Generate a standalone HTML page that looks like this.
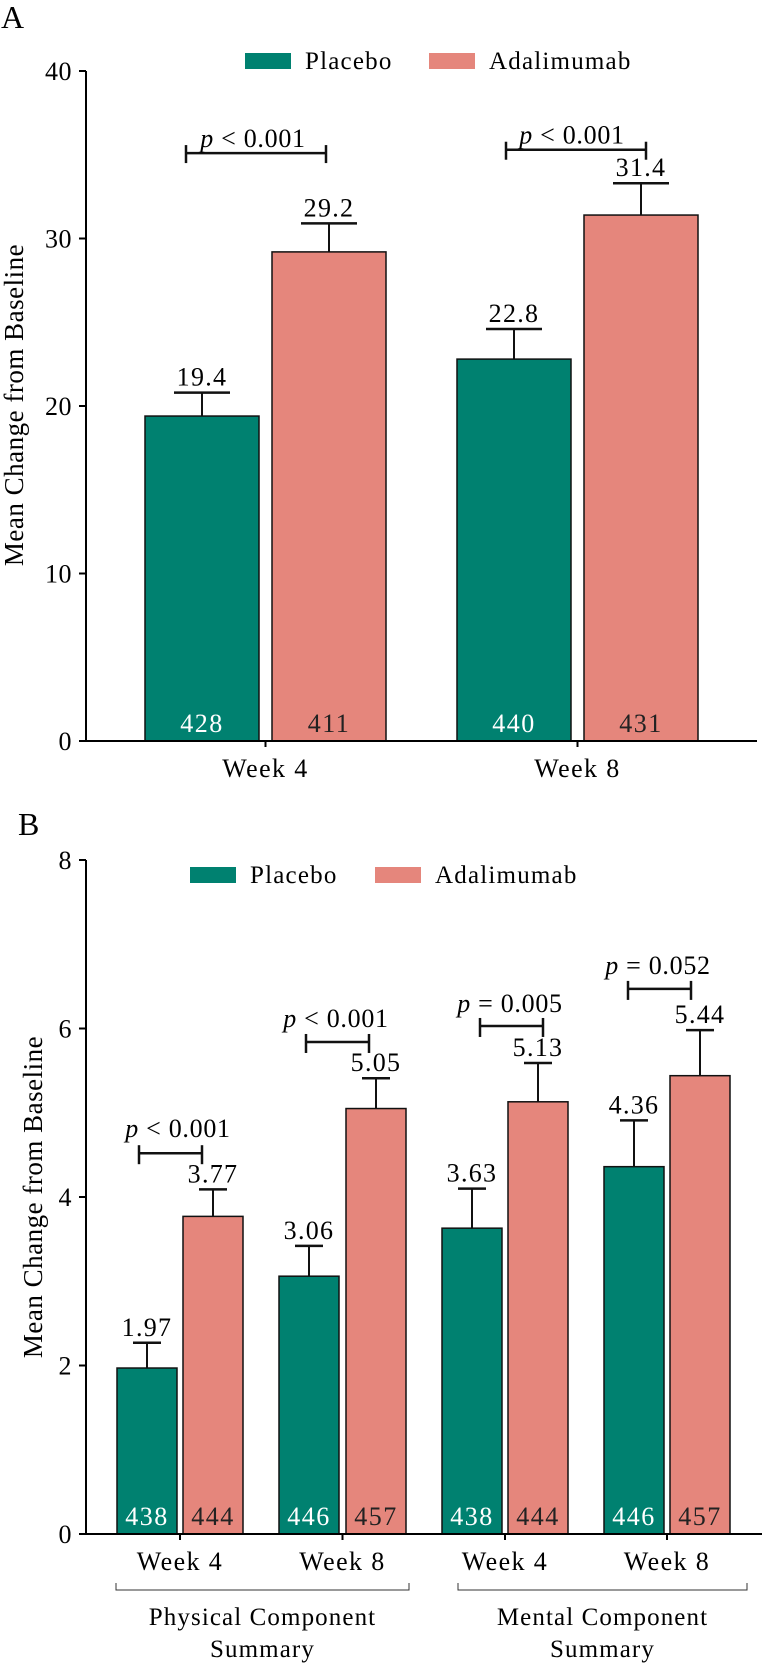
<!DOCTYPE html>
<html><head><meta charset="utf-8"><style>
html,body{margin:0;padding:0;background:#fff}
svg{display:block;font-family:"Liberation Serif",serif}
</style></head><body>
<svg id="chart" width="762" height="1664" viewBox="0 0 762 1664" xmlns="http://www.w3.org/2000/svg"></svg>
<script>
// Panel A data
const catsA = ["Week 4","Week 8"];
const placeboA = [19.4, 22.8];
const adaA = [29.2, 31.4];
const placeboAErr = [1.4, 1.8];
const adaAErr = [1.7, 1.9];
const nPlaceboA = ["428","440"];
const nAdaA = ["411","431"];
const pA = ["< 0.001","< 0.001"];
const ticksA = [0,10,20,30,40];
// Panel B data
const catsB = ["Week 4","Week 8","Week 4","Week 8"];
const placeboB = [1.97, 3.06, 3.63, 4.36];
const adaB = [3.77, 5.05, 5.13, 5.44];
const placeboBErr = [0.30, 0.36, 0.47, 0.55];
const adaBErr = [0.32, 0.36, 0.46, 0.54];
const nPlaceboB = ["438","446","438","446"];
const nAdaB = ["444","457","444","457"];
const pB = ["< 0.001","< 0.001","= 0.005","= 0.052"];
const ticksB = [0,2,4,6,8];
const groupsB = ["Physical Component|Summary","Mental Component|Summary"];

const NS="http://www.w3.org/2000/svg";
const svg=document.getElementById('chart');
function mk(tag,attrs,parent,text){const e=document.createElementNS(NS,tag);for(const k in attrs)e.setAttribute(k,attrs[k]);if(text!==undefined)e.textContent=text;(parent||svg).appendChild(e);return e;}
const TEAL="#008170", SALMON="#e5867c";

function panel(o){
  const g=mk('g',{});
  
  
  const y=v=>o.y0-(v/o.ymax)*(o.y0-o.yTop);
  const L=mk('text',{x:o.letterX,y:o.letterY,'font-size':32},g,o.letter);
  
  const ax=mk('line',{x1:o.axX,y1:y(o.ymax),x2:o.axX,y2:o.y0,stroke:'#000','stroke-width':2},g);
  
  o.ticks.forEach(t=>{
    mk('line',{x1:o.axX-7,y1:y(t),x2:o.axX,y2:y(t),stroke:'#000','stroke-width':2},g);
    const tl=mk('text',{x:o.axX-14,y:y(t)+9,'font-size':26,'text-anchor':'end','letter-spacing':'0.5'},g,String(t));
    
  });
  const yt=mk('text',{x:0,y:0,'font-size':27,'text-anchor':'middle','letter-spacing':'0.5',transform:`translate(${o.ylabX},${o.ylabY}) rotate(-90)`},g,'Mean Change from Baseline');
  
  [[o.leg[0],TEAL,'Placebo'],[o.leg[1],SALMON,'Adalimumab']].forEach(([lx,c,t])=>{
    const r=mk('rect',{x:lx,y:o.legY,width:46,height:16,fill:c},g);
    
    const tx=mk('text',{x:lx+60,y:o.legY+16,'font-size':25,'letter-spacing':'1.2'},g,t);
    
  });
  o.cats.forEach((c,i)=>{
    const series=[[o.pl[i],o.plErr[i],o.nPl[i],TEAL,'#fff',o.bx[i][0],'placebo'],[o.ad[i],o.adErr[i],o.nAd[i],SALMON,'#222',o.bx[i][1],'adalimumab']];
    series.forEach(([v,e,n,col,tc,bx,s])=>{
      const cx=bx+o.bw/2;
      const b=mk('rect',{x:bx,y:y(v),width:o.bw,height:o.y0-y(v),fill:col,stroke:'#111','stroke-width':1.5},g);
      
      mk('line',{x1:cx,y1:y(v),x2:cx,y2:y(v+e),stroke:'#111','stroke-width':2},g);
      mk('line',{x1:cx-o.cap,y1:y(v+e),x2:cx+o.cap,y2:y(v+e),stroke:'#111','stroke-width':2.5},g);
      const vl=mk('text',{x:cx,y:y(v+e)-7,'font-size':26,'text-anchor':'middle','letter-spacing':'1.3'},g,String(v));
      
      const nl=mk('text',{x:cx,y:o.nY,'font-size':26,'text-anchor':'middle','letter-spacing':'1.5',fill:tc},g,n);
      
    });
    const br=o.br[i];
    const by=y(br.v);
    mk('line',{x1:br.x1,y1:by,x2:br.x2,y2:by,stroke:'#111','stroke-width':2.5},g);
    mk('line',{x1:br.x1,y1:by-o.bu,x2:br.x1,y2:by+o.bd,stroke:'#111','stroke-width':2.5},g);
    mk('line',{x1:br.x2,y1:by-o.bu,x2:br.x2,y2:by+o.bd,stroke:'#111','stroke-width':2.5},g);
    const pt=mk('text',{x:br.tx,y:by-br.dy,'font-size':26,'text-anchor':'middle','letter-spacing':'0.7'},g);
    
    mk('tspan',{'font-style':'italic'},pt,'p');
    mk('tspan',{},pt,' '+o.p[i]);
    const xc=(o.bx[i][0]+o.bx[i][1]+o.bw)/2;
    mk('line',{x1:xc,y1:o.y0,x2:xc,y2:o.y0+6,stroke:'#000','stroke-width':2},g);
    const xl=mk('text',{x:xc,y:o.xlY,'font-size':26,'text-anchor':'middle','letter-spacing':'1.4'},g,c);
    
  });
  const xa=mk('line',{x1:o.axX,y1:o.y0,x2:o.axEnd,y2:o.y0,stroke:'#000','stroke-width':2},g);
  
  return {g,y};
}

panel({name:'panel-a',letter:'A',letterX:1,letterY:28,axX:86,axEnd:757,y0:741,yTop:71,ymax:40,ticks:ticksA,
  ylabX:23,ylabY:405,leg:[245,429],legY:53,cats:catsA,pl:placeboA,ad:adaA,plErr:placeboAErr,adErr:adaAErr,nPl:nPlaceboA,nAd:nAdaA,p:pA,
  bx:[[145,272],[457,584]],bw:114,cap:28,bu:8,bd:10,nY:732,xlY:777,
  br:[{x1:186,x2:326,v:35.1,tx:253,dy:6},{x1:506,x2:646,v:35.3,tx:572,dy:6}]});

panel({name:'panel-b',letter:'B',letterX:18,letterY:835,axX:86,axEnd:762,y0:1534,yTop:860,ymax:8,ticks:ticksB,
  ylabX:42,ylabY:1197,leg:[190,375],legY:867,cats:catsB,pl:placeboB,ad:adaB,plErr:placeboBErr,adErr:adaBErr,nPl:nPlaceboB,nAd:nAdaB,p:pB,
  bx:[[117,183],[279,346],[442,508],[604,670]],bw:60,cap:14,bu:8,bd:11,nY:1525,xlY:1570,
  br:[{x1:139,x2:202,v:4.52,tx:178,dy:16},{x1:306,x2:369,v:5.84,tx:336,dy:15},{x1:480,x2:543,v:6.03,tx:510,dy:14},{x1:628,x2:691,v:6.47,tx:658,dy:15}]});

groupsB.forEach((gname,i)=>{
  const xs=[[116,409],[458,747]][i];
  const lines=gname.split('|');
  const gg=mk('g',{});
  
  
  mk('path',{d:`M${xs[0]} 1583 V1590 H${xs[1]} V1583`,fill:'none',stroke:'#333','stroke-width':1},gg);
  const cx=(xs[0]+xs[1])/2;
  mk('text',{x:cx,y:1625,'font-size':25,'text-anchor':'middle','letter-spacing':'1.1'},gg,lines[0]);
  mk('text',{x:cx,y:1657,'font-size':25,'text-anchor':'middle','letter-spacing':'1.1'},gg,lines[1]);
});
</script>
</body></html>
